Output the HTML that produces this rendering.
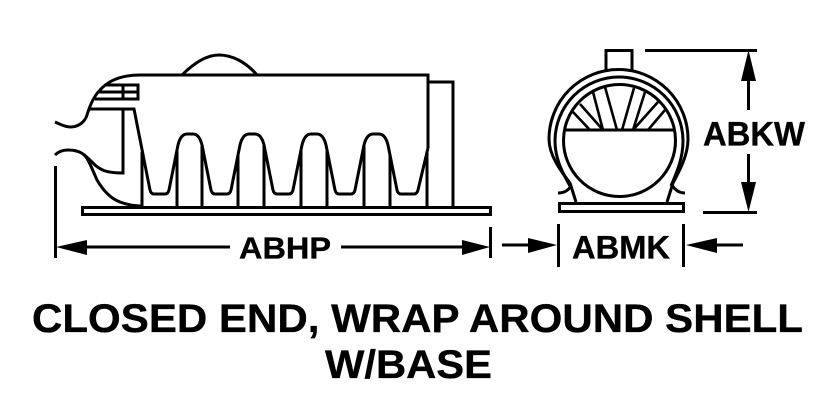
<!DOCTYPE html>
<html><head><meta charset="utf-8"><style>
html,body{margin:0;padding:0;background:#fff;width:840px;height:420px;overflow:hidden}
svg{display:block}
text{font-family:"Liberation Sans",sans-serif;font-weight:bold;fill:#000;stroke:#000;stroke-width:.35}
.l{fill:none;stroke:#000;stroke-width:3}
.t{fill:none;stroke:#000;stroke-width:2.6}
</style></head><body>
<svg width="840" height="420" viewBox="0 0 840 420" xmlns="http://www.w3.org/2000/svg">
<!-- side view -->
<path class="l" d="M182 75 C195 62 207 55 219 55 C232 55 246 62 257 75"/>
<path class="l" d="M55 122 C62 125 66 127 71 127 C78 127 85 122 87 115 C90 105 94 96 100 90 C108 81 120 75 140 75 L428 75 L428 148"/>
<path class="l" d="M106 85 H138 V99 H95 M98 92 H138 M123 85 V99"/>
<path class="l" d="M90 109 H134 L150 190 Q151 194 154 194 H165 Q168 194 169 190 L178 145 C180 137 183 134 187 134 H193 C197 134 200 137 202 145 L211 190 Q212 194 215 194 H227 Q230 194 231 190 L240 145 C242 137 245 134 249 134 H255 C259 134 262 137 264 145 L273 190 Q274 194 277 194 H289 Q292 194 293 190 L302 145 C304 137 307 134 311 134 H317 C321 134 324 137 326 145 L335 190 Q336 194 339 194 H351 Q354 194 355 190 L364 145 C366 137 369 134 373 134 H379 C383 134 386 137 388 145 L397 190 Q398 194 401 194 H414 Q417 194 418 190 L428 148"/>
<path class="l" d="M123 109 V173 C108 173 100 171 92 162 C84 154 80 150 68 150 C62 150 58 152 55 155"/>
<path class="l" d="M83 154 C88 158 90 164 97 180 C104 192 112 199 120 202 C128 205 134 206 142 206"/>
<path class="l" d="M142 152 V207 M177 150 V207 M202 146 V207 M238 155 V207 M264 146 V207 M301 150 V207 M327 150 V207 M364 146 V207 M390 155 V207 M427 152 V207"/>
<path class="l" d="M428 82 H453 V207"/>
<rect class="l" x="82.500" y="207.500" width="408" height="7"/>
<!-- end view -->
<path class="l" d="M606 70 V50.500 H632 V70"/>
<path class="l" d="M576 202 L570 183 C560 170 549 155 549 139 A69.500 69.500 0 0 1 688 139 C688 155 680 170 673 183 L667 202"/>
<path class="l" d="M570 186 C562 172 555 158 555 141 A64 64 0 0 1 683 141 C683 158 677 172 671 186"/>
<circle class="l" cx="619.500" cy="140.500" r="56"/>
<path class="l" d="M564 130 H675"/>
<path class="t" d="M590 130 L573 112 M603 130 L580 104 M603 130 L593 92 M617 130 L605 87 M622 130 L634 88 M633 130 L645 92 M633 130 L658 102 M648 130 L665 110"/>
<path class="l" d="M558 193 C564 193 568 191 571 186 M685 193 C679 193 675 190 672 185"/>
<rect class="l" x="559.500" y="203.500" width="124" height="8"/>
<!-- dimensions -->
<path class="l" d="M55.500 166 V258 M490.500 227 V258 M558.500 224 V267 M683.500 224 V267"/>
<path class="l" d="M80 247 H230 M341 247 H470 M502 245 H535 M710 245 H743"/>
<path d="M56 247 L87 240 V255 Z M490 247 L462 240 V255 Z M557 245 L528 238 V253 Z M686 245 L717 238 V253 Z"/>
<path class="l" d="M645 50.500 H757 M703 212.500 H757 M748.500 75 V110 M748.500 154 V190"/>
<path d="M748.500 50 L741 81 H756 Z M748.500 212 L741 182 H756 Z"/>
<text x="239" y="258.500" font-size="30.500" textLength="92" lengthAdjust="spacingAndGlyphs">ABHP</text>
<text x="572" y="258.500" font-size="32" textLength="98" lengthAdjust="spacingAndGlyphs">ABMK</text>
<text x="703" y="145.500" font-size="34" textLength="102" lengthAdjust="spacingAndGlyphs">ABKW</text>
<text x="32" y="332" font-size="40" textLength="771" lengthAdjust="spacingAndGlyphs">CLOSED END, WRAP AROUND SHELL</text>
<text x="325" y="378" font-size="40" textLength="167" lengthAdjust="spacingAndGlyphs">W/BASE</text>
</svg>
</body></html>
